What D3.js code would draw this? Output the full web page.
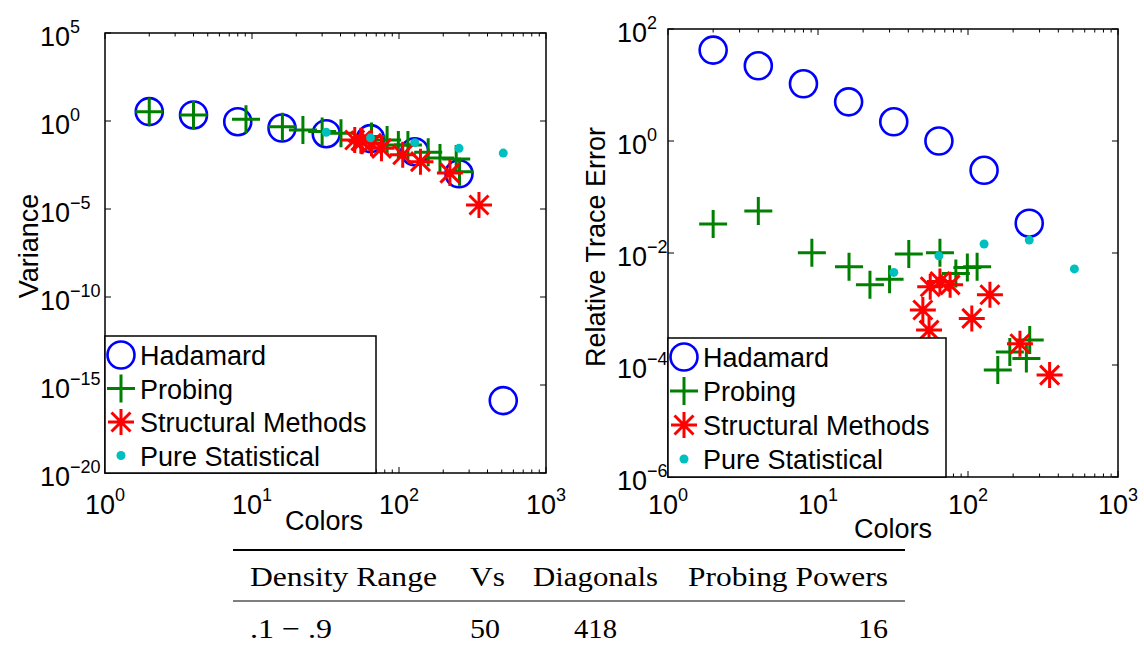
<!DOCTYPE html>
<html>
<head>
<meta charset="utf-8">
<script src="https://cdn.jsdelivr.net/npm/d3@7"></script>
<style>
  body { margin: 0; background: #fff; }
  text { font-family: "Liberation Sans", Arial, Helvetica, sans-serif; }
  .tbl { font-family: "Liberation Serif", "Times New Roman", serif; font-size: 28px; }
</style>
</head>
<body>
<div id="graph"></div>
<script>
// colors used in each experiment (x) and what we measured (y)
const hadamardX = [2, 4, 8, 16, 32, 64, 128, 256, 512];
const hadamardVar = [3.4, 2.2, 0.91, 0.40, 0.19, 0.10, 0.018, 0.001, 1.3e-16];
const hadamardErr = [42, 22, 10.5, 5.0, 2.2, 1.0, 0.30, 0.034];

const probingX = [2, 4, 9.1, 16.1, 22.2, 30, 40.3, 65, 83, 99, 115, 158, 190, 245, 258];
const probingVar = [3.4, 2.2, 1.25, 0.47, 0.31, 0.25, 0.20, 0.13, 0.083, 0.043, 0.043, 0.017, 0.008, 0.007, 0.0013];
const probingErr = [0.033, 0.056, 0.0101, 0.0057, 0.0027, 0.0034, 0.0096, 0.0101, 0.0043, 0.0055, 0.0057, 8.1e-5, 1.7e-4, 1.3e-4, 2.8e-4];

const structX = [50, 55, 56, 65, 76, 106, 140, 222, 350];
const structVar = [0.083, 0.075, 0.07, 0.054, 0.028, 0.012, 0.0049, 0.0011, 1.7e-5];
const structErr = [0.00096, 0.00042, 0.0025, 0.0031, 0.0027, 0.00068, 0.0018, 0.00024, 6.6e-5];

const statX = [32, 64, 128, 256, 512];
const statVar = [0.23, 0.11, 0.059, 0.028, 0.015];
const statErr = [0.0045, 0.0089, 0.0145, 0.017, 0.0052];

const legendNames = ["Hadamard", "Probing", "Structural Methods", "Pure Statistical"];

const tableHead = ["Density Range", "Vs", "Diagonals", "Probing Powers"];
const tableRow = [".1 \u2212 .9", "50", "418", "16"];

const width = 1144;
const height = 647;

const blue = "#0000ff";
const green = "#008000";
const red = "#ff0000";
const cyan = "#00bfbf";

const svg = d3.select("#graph")
              .append("svg")
              .attr("width", width)
              .attr("height", height);

// marker drawers, MATLAB style
const drawCircle = (g, x, y) => g.append("circle")
                                  .attr("cx", x).attr("cy", y).attr("r", 13.5)
                                  .attr("fill", "none").attr("stroke", blue).attr("stroke-width", 2.6);

const drawPlus = (g, x, y) => g.append("path")
                                .attr("d", `M${x - 14},${y}H${x + 14}M${x},${y - 14}V${y + 14}`)
                                .attr("stroke", green).attr("stroke-width", 3);

const drawStar = (g, x, y) => {
  const a = 13, b = 9.5;
  g.append("path")
   .attr("d", `M${x - a},${y}H${x + a}M${x},${y - a}V${y + a}` +
              `M${x - b},${y - b}L${x + b},${y + b}M${x - b},${y + b}L${x + b},${y - b}`)
   .attr("stroke", red).attr("stroke-width", 3);
};

const drawDot = (g, x, y) => g.append("circle")
                               .attr("cx", x).attr("cy", y).attr("r", 4.5)
                               .attr("fill", cyan);

function sciLabel(g, x, y, exp, anchor) {
  const t = g.append("text")
             .attr("x", x)
             .attr("y", y)
             .attr("text-anchor", anchor)
             .attr("font-size", 27);
  t.append("tspan").text("10");
  t.append("tspan")
   .attr("font-size", 18)
   .attr("dy", -13)
   .text(exp < 0 ? "\u2212" + (-exp) : exp);
}

function panel(opt) {
  const x = d3.scaleLog().domain([1, 1000]).range([opt.left, opt.right]);
  const y = d3.scaleLog().domain(opt.yDomain).range([opt.bottom, opt.top]);
  const g = svg.append("g");

  g.append("rect")
   .attr("x", opt.left).attr("y", opt.top)
   .attr("width", opt.right - opt.left).attr("height", opt.bottom - opt.top)
   .attr("fill", "#fff");

  // x ticks: major + log minor, on bottom and top, pointing in
  const xMinor = [];
  [1, 10, 100].forEach(d => { for (let k = 2; k <= 9; k++) xMinor.push(d * k); });
  const xMajor = [1, 10, 100, 1000];
  const tickPath = [];
  xMajor.forEach(v => {
    const px = x(v);
    tickPath.push(`M${px},${opt.bottom}V${opt.bottom - 6}M${px},${opt.top}V${opt.top + 6}`);
  });
  xMinor.forEach(v => {
    const px = x(v);
    tickPath.push(`M${px},${opt.bottom}V${opt.bottom - 3.5}M${px},${opt.top}V${opt.top + 3.5}`);
  });
  opt.yTicks.forEach(v => {
    const py = y(v);
    tickPath.push(`M${opt.left},${py}H${opt.left + 6}M${opt.right},${py}H${opt.right - 6}`);
  });
  g.append("path")
   .attr("d", tickPath.join(""))
   .attr("stroke", "#000").attr("stroke-width", 1).attr("fill", "none");

  g.append("rect")
   .attr("x", opt.left).attr("y", opt.top)
   .attr("width", opt.right - opt.left).attr("height", opt.bottom - opt.top)
   .attr("fill", "none").attr("stroke", "#000").attr("stroke-width", 1.5);

  xMajor.forEach(v => sciLabel(g, x(v), 514, Math.round(Math.log10(v)), "middle"));
  opt.yTicks.forEach(v => sciLabel(g, opt.yLabelX, y(v) + 13, Math.round(Math.log10(v)), "start"));

  g.append("text")
   .attr("x", opt.xTitle[0]).attr("y", opt.xTitle[1])
   .attr("text-anchor", "middle").attr("font-size", 27)
   .text("Colors");

  g.append("text")
   .attr("transform", `translate(${opt.yTitle[0]},${opt.yTitle[1]}) rotate(-90)`)
   .attr("text-anchor", "middle").attr("font-size", 27)
   .text(opt.yTitleText);

  const marks = g.append("g");
  hadamardX.forEach((d, i) => { if (i < opt.had.length) drawCircle(marks, x(d), y(opt.had[i])); });
  probingX.forEach((d, i) => drawPlus(marks, x(d), y(opt.prob[i])));
  structX.forEach((d, i) => drawStar(marks, x(d), y(opt.struct[i])));
  statX.forEach((d, i) => drawDot(marks, x(d), y(opt.stat[i])));

  // legend
  const lg = g.append("g");
  lg.append("rect")
    .attr("x", opt.left).attr("y", opt.legend.top)
    .attr("width", opt.legend.w).attr("height", opt.bottom - opt.legend.top)
    .attr("fill", "#fff").attr("stroke", "#000").attr("stroke-width", 1.5);
  const drawers = [drawCircle, drawPlus, drawStar, drawDot];
  legendNames.forEach((name, i) => {
    const cy = opt.legend.top + 19 + i * opt.legend.step;
    drawers[i](lg, opt.left + 16, cy);
    lg.append("text")
      .attr("x", opt.left + 35).attr("y", cy + 10)
      .attr("font-size", 27)
      .text(name);
  });
}

panel({
  left: 105, right: 546, top: 33, bottom: 473,
  yDomain: [1e-20, 1e5],
  yTicks: [1e5, 1, 1e-5, 1e-10, 1e-15, 1e-20],
  yLabelX: 40,
  xTitle: [324, 530],
  yTitle: [38, 246],
  yTitleText: "Variance",
  had: hadamardVar, prob: probingVar, struct: structVar, stat: statVar,
  legend: { top: 336, w: 271, step: 33.5 }
});

panel({
  left: 668, right: 1118, top: 29, bottom: 477,
  yDomain: [1e-6, 1e2],
  yTicks: [1e2, 1, 1e-2, 1e-4, 1e-6],
  yLabelX: 617,
  xTitle: [893, 538],
  yTitle: [605, 247],
  yTitleText: "Relative Trace Error",
  had: hadamardErr, prob: probingErr, struct: structErr, stat: statErr,
  legend: { top: 338, w: 278, step: 34 }
});

// booktabs-like table below the plots
const tbl = svg.append("g").attr("class", "tbl");
tbl.append("line").attr("x1", 233).attr("x2", 905).attr("y1", 550).attr("y2", 550)
   .attr("stroke", "#000").attr("stroke-width", 2);
tbl.append("line").attr("x1", 233).attr("x2", 905).attr("y1", 601).attr("y2", 601)
   .attr("stroke", "#000").attr("stroke-width", 1.2);

const headX = [250, 470, 533, 688];
const headLen = [187, 35, 125, 200];
tableHead.forEach((d, i) => {
  tbl.append("text")
     .attr("class", "tbl")
     .attr("x", headX[i]).attr("y", 586)
     .attr("textLength", headLen[i]).attr("lengthAdjust", "spacingAndGlyphs")
     .text(d);
});

const rowX = [250, 470, 574, 888];
const rowLen = [82, 30, 43, 30];
const rowAnchor = ["start", "start", "start", "end"];
tableRow.forEach((d, i) => {
  tbl.append("text")
     .attr("class", "tbl")
     .attr("x", i === 3 ? rowX[i] - rowLen[i] : rowX[i]).attr("y", 638)
     .attr("textLength", rowLen[i]).attr("lengthAdjust", "spacingAndGlyphs")
     .text(d);
});
</script>
</body>
</html>
